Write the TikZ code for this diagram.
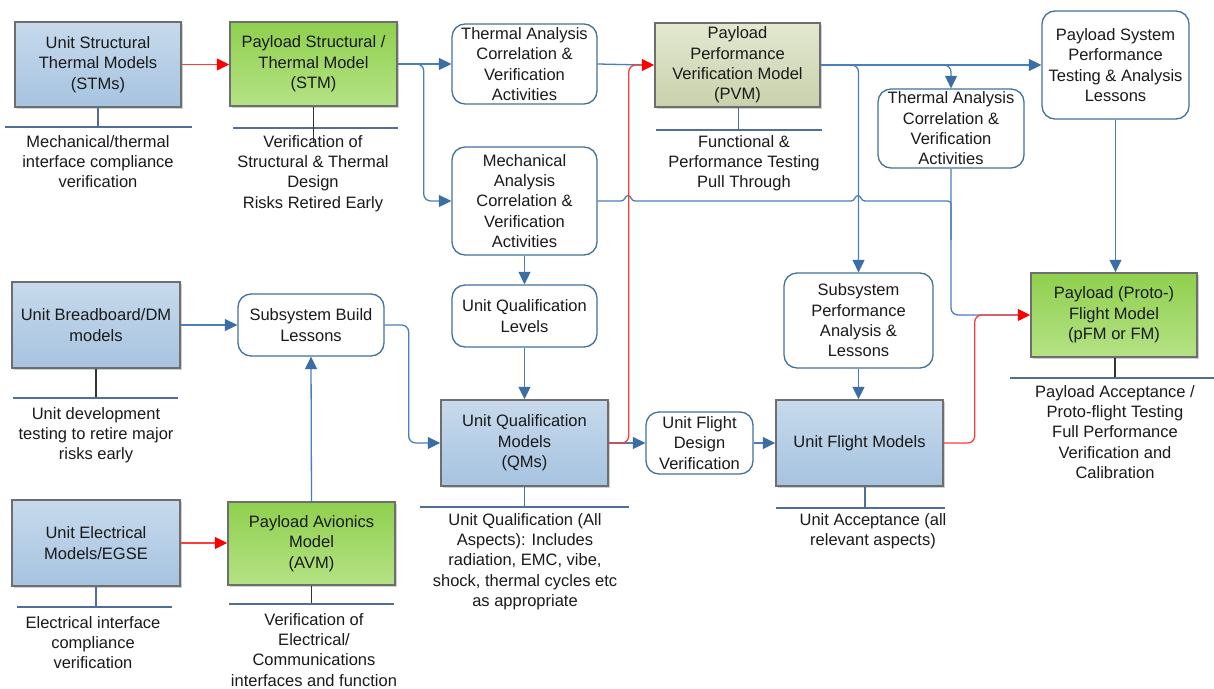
\documentclass[tikz,border=0pt]{standalone}
\usepackage{fontspec}
\setmainfont{Liberation Sans}
\usetikzlibrary{arrows.meta,shadows}

\definecolor{txt}{HTML}{1A1A1A}
\definecolor{conn}{HTML}{4A7EBB}
\definecolor{tipblue}{HTML}{3C6EA6}
\definecolor{rbord}{HTML}{41719C}
\definecolor{ubord}{HTML}{6E6E6E}
\definecolor{bluetop}{HTML}{C7DAEC}
\definecolor{bluebot}{HTML}{A6C3E0}
\definecolor{greentop}{HTML}{8FD04E}
\definecolor{greenbot}{HTML}{B5E285}
\definecolor{olivetop}{HTML}{E3E8D0}
\definecolor{olivebot}{HTML}{C9D1AC}
\definecolor{redln}{HTML}{FF3B3B}
\definecolor{noteln}{HTML}{4F6E99}
\definecolor{stemdark}{HTML}{333333}

\begin{document}
\begin{tikzpicture}[x=1pt,y=-1pt,
  every node/.style={font=\fontsize{16.5}{20.3}\selectfont, text=txt, align=center, inner sep=0pt},
  model/.style={rectangle, draw=ubord, line width=1.5pt,
    drop shadow={shadow xshift=2pt,shadow yshift=-2pt,opacity=0.3,fill=black!60}},
  unitbox/.style={model, top color=bluetop, bottom color=bluebot},
  greenbox/.style={model, top color=greentop, bottom color=greenbot},
  olivebox/.style={model, top color=olivetop, bottom color=olivebot},
  activity/.style={rectangle, rounded corners=13pt, draw=rbord, line width=1.3pt, fill=white},
  link/.style={draw=conn, line width=1.3pt, rounded corners=7pt},
  flow/.style={link, -{Triangle[length=12.5pt,width=12pt,color=tipblue,fill=tipblue]}},
  redflow/.style={draw=redln, line width=1.3pt, rounded corners=7pt,
    -{Triangle[length=12.5pt,width=12pt,color=red,fill=red]}},
  noteline/.style={draw=noteln, line width=1.2pt},
  stemblue/.style={draw=noteln, line width=1.2pt},
  stemdk/.style={draw=stemdark, line width=1.2pt},
  note/.style={anchor=north}
]
\useasboundingbox[fill=white] (0,0) rectangle (1214,688);

% ---------- model boxes ----------
\node[unitbox, minimum width=166pt, minimum height=85pt] (ustm) at (98,64.5) {Unit Structural\\Thermal Models\\(STMs)};
\node[greenbox, minimum width=167pt, minimum height=84pt] (pstm) at (313.5,64) {Payload Structural /\\Thermal Model\\(STM)};
\node[olivebox, minimum width=165pt, minimum height=84pt] (pvm) at (737.5,65) {Payload\\Performance\\Verification Model\\(PVM)};
\node[unitbox, minimum width=168pt, minimum height=86pt] (bb) at (96,325) {Unit Breadboard/DM\\models};
\node[unitbox, minimum width=168pt, minimum height=86pt] (uem) at (96,543) {Unit Electrical\\Models/EGSE};
\node[greenbox, minimum width=167pt, minimum height=83pt] (avm) at (311.5,543.5) {Payload Avionics\\Model\\(AVM)};
\node[unitbox, minimum width=167pt, minimum height=86pt] (qm) at (524.5,443) {Unit Qualification\\Models\\(QMs)};
\node[unitbox, minimum width=167pt, minimum height=86pt] (ufm) at (859.5,443) {Unit Flight Models};
\node[greenbox, minimum width=166pt, minimum height=84pt] (pfm) at (1114,315) {Payload (Proto-)\\Flight Model\\(pFM or FM)};

% ---------- activity boxes ----------
\node[activity, minimum width=145pt, minimum height=80pt] (ta1) at (524.5,64) {Thermal Analysis\\Correlation \&\\Verification\\Activities};
\node[activity, minimum width=145pt, minimum height=108pt] (mech) at (524.5,201) {Mechanical\\Analysis\\Correlation \&\\Verification\\Activities};
\node[activity, minimum width=147pt, minimum height=108pt] (psp) at (1115.5,65) {Payload System\\Performance\\Testing \& Analysis\\Lessons};
\node[activity, minimum width=146pt, minimum height=79pt] (ta2) at (951,128.5) {Thermal Analysis\\Correlation \&\\Verification\\Activities};
\node[activity, minimum width=145pt, minimum height=62pt] (uql) at (524.5,316) {Unit Qualification\\Levels};
\node[activity, minimum width=146pt, minimum height=62pt] (sbl) at (311,325) {Subsystem Build\\Lessons};
\node[activity, minimum width=107pt, minimum height=62pt] (ufdv) at (699.5,443) {Unit Flight\\Design\\Verification};
\node[activity, minimum width=149pt, minimum height=95pt] (ssp) at (858.5,320.5) {Subsystem\\Performance\\Analysis \&\\Lessons};

% ---------- annotations ----------
\draw[stemblue] (ustm.south) -- ++(0,20);
\draw[noteline] (5,127) -- (192,127);
\node[note] (ustmnote) at (98,135) {Mechanical/thermal\\interface compliance\\verification};

\draw[noteline] (233,128) -- (398,128);
\draw[stemdk] (pstm.south) -- ++(0,36);
\node[note] (pstmnote) at (313,135) {Verification of\\Structural \& Thermal\\Design\\Risks Retired Early};

\draw[stemblue] ([xshift=1pt]pvm.south) -- ++(0,23);
\draw[noteline] (656,130) -- (822,130);
\node[note] (pvmnote) at (744,135) {Functional \&\\Performance Testing\\Pull Through};

\draw[stemdk] (bb.south) -- ++(0,30);
\draw[noteline] (13,398) -- (178,398);
\node[note] (bbnote) at (96,407) {Unit development\\testing to retire major\\risks early};

\draw[stemblue] (uem.south) -- ++(0,21);
\draw[noteline] (17,607) -- (172,607);
\node[note] (uemnote) at (93,616) {Electrical interface\\compliance\\verification};

\draw[stemdk] (avm.south) -- ++(0,19);
\draw[noteline] (229,604) -- (394,604);
\node[note] (avmnote) at (314,613) {Verification of\\Electrical/\\Communications\\interfaces and function};

\draw[stemblue] (qm.south) -- ++(0,21);
\draw[noteline] (420,507) -- (629,507);
\node[note] (qmnote) at (525,513) {Unit Qualification (All\\Aspects): Includes\\radiation, EMC, vibe,\\shock, thermal cycles etc\\as appropriate};

\draw[stemblue] ([xshift=5.5pt]ufm.south) -- ++(0,22);
\draw[noteline] (776,508) -- (945,508);
\node[note] (ufmnote) at (873,513) {Unit Acceptance (all\\relevant aspects)};

\draw[stemdk] ([xshift=1pt]pfm.south) -- ++(0,21);
\draw[noteline] (1010,378) -- (1214,378);
\node[note] (pfmnote) at (1115,385) {Payload Acceptance /\\Proto-flight Testing\\Full Performance\\Verification and\\Calibration};

% ---------- blue connectors ----------
\draw[flow] (pstm.east) -- (ta1.west);
\draw[flow] (pstm.east) -- ++(26,0) |- (mech.west);
\draw[link] (ta1.east) -- ([xshift=-10pt]pvm.west);
\draw[flow] (mech.south) -- (uql.north);
\draw[flow] (uql.south) -- (qm.north);
\draw[flow] (bb.east) -- (sbl.west);
\draw[flow] (avm.north) -- (sbl.south);
\draw[flow] (sbl.east) -- ++(24,0) |- (qm.west);
\draw[flow] (qm.east) -- (ufdv.west);
\draw[flow] (ufdv.east) -- (ufm.west);
\draw[flow] (pvm.east) -- (psp.west);
\draw[flow] (pvm.east) -| (ssp.north);
\draw[flow] (pvm.east) -| (ta2.north);
\draw[flow] (psp.south) -- (psp.south |- pfm.north);
\draw[flow] (ssp.south) -- (ssp.south |- ufm.north);
\draw[link] (ta2.south) |- ([xshift=-10pt]pfm.west);
% mechanical correlation feed, hopping over the crossing lines
\draw[draw=conn, line width=1.3pt] (mech.east) -- (621,201)
  .. controls (625,201) and (625,195.5) .. (628,195.5)
  .. controls (631,195.5) and (631,201) .. (635,201) -- (851,201)
  .. controls (855,201) and (855,195.5) .. (858,195.5)
  .. controls (861,195.5) and (861,201) .. (865,201) -- (944,201)
  .. controls (951,201) .. (951,208) -- (951,240);

% ---------- red connectors ----------
\draw[redflow] (ustm.east) -- (ustm.east -| pstm.west);
\draw[redflow] (uem.east) -- (uem.east -| avm.west);
\draw[redflow] (qm.east) -- ++(20,0) |- (pvm.west);
\draw[redflow] (ufm.east) -- ++(31,0) |- (pfm.west);
\end{tikzpicture}
\end{document}
